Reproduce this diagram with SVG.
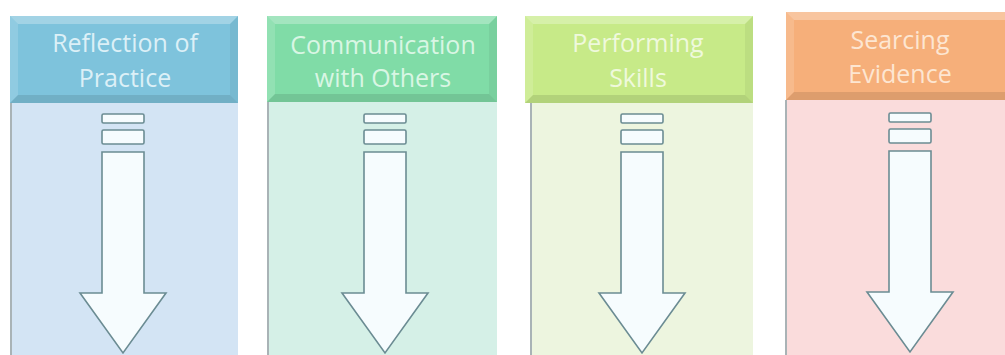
<svg xmlns="http://www.w3.org/2000/svg" width="1005" height="355" viewBox="0 0 1005 355">
<style>
.lbl{font-family:"Open Sans","Liberation Sans",sans-serif;font-size:25px;text-anchor:middle}
.edge{stroke:#a9b3b6;stroke-width:2}
.arrow{fill:#f6fcfe;stroke:#6b8c93;stroke-width:1.6;stroke-linejoin:miter}
.hl{fill:#ffffff;opacity:0.28}
.hl2{fill:#ffffff;opacity:0.14}
.sh{fill:#000000;opacity:0.10}
.sh2{fill:#000000;opacity:0.05}
</style>
<defs>
<g id="arr">
<rect class="arrow" x="-21" y="114" width="42" height="9" rx="1.5"/>
<rect class="arrow" x="-21" y="130" width="42" height="14" rx="1.5"/>
<path class="arrow" d="M-21,152 H21 V293 H43 L0,353 L-43,293 H-21 Z"/>
</g>
</defs>
<rect width="1005" height="355" fill="#ffffff"/>

<g id="col1">
<rect x="10" y="103" width="228" height="252" fill="#d3e4f4"/>
<line class="edge" x1="11" y1="103" x2="11" y2="355"/>
<rect x="10" y="16" width="228" height="87" fill="#7ec3dc"/>
<polygon class="hl" points="10,16 238,16 230,24 18,24"/>
<polygon class="hl2" points="10,16 18,24 18,95 10,103"/>
<polygon class="sh2" points="238,16 238,103 230,95 230,24"/>
<polygon class="sh" points="10,103 238,103 230,95 18,95"/>
<text class="lbl" x="125" y="52" fill="#dcf0f7">Reflection of</text>
<text class="lbl" x="125" y="87" fill="#dcf0f7">Practice</text>
<use href="#arr" x="123" y="0"/>
</g>

<g id="col2">
<rect x="267" y="102" width="230" height="253" fill="#d5f0e7"/>
<line class="edge" x1="268" y1="102" x2="268" y2="355"/>
<rect x="267" y="16" width="230" height="86" fill="#80dca7"/>
<polygon class="hl" points="267,16 497,16 489,24 275,24"/>
<polygon class="hl2" points="267,16 275,24 275,94 267,102"/>
<polygon class="sh2" points="497,16 497,102 489,94 489,24"/>
<polygon class="sh" points="267,102 497,102 489,94 275,94"/>
<text class="lbl" x="383" y="54" fill="#d9f6e4">Communication</text>
<text class="lbl" x="383" y="87" fill="#d9f6e4">with Others</text>
<use href="#arr" x="385" y="0"/>
</g>

<g id="col3">
<rect x="530" y="103" width="223" height="252" fill="#edf5df"/>
<line class="edge" x1="531" y1="103" x2="531" y2="355"/>
<rect x="525" y="16" width="228" height="87" fill="#c7ea88"/>
<polygon class="hl" points="525,16 753,16 745,24 533,24"/>
<polygon class="hl2" points="525,16 533,24 533,95 525,103"/>
<polygon class="sh2" points="753,16 753,103 745,95 745,24"/>
<polygon class="sh" points="525,103 753,103 745,95 533,95"/>
<text class="lbl" x="638" y="52" fill="#eff9dc">Performing</text>
<text class="lbl" x="638" y="87" fill="#eff9dc">Skills</text>
<use href="#arr" x="642" y="0"/>
</g>

<g id="col4">
<rect x="785" y="100" width="230" height="255" fill="#fadcdc"/>
<line class="edge" x1="786" y1="100" x2="786" y2="355"/>
<rect x="786" y="12" width="229" height="88" fill="#f6af7a"/>
<polygon class="hl" points="786,12 1015,12 1007,20 794,20"/>
<polygon class="hl2" points="786,12 794,20 794,92 786,100"/>
<polygon class="sh" points="786,100 1015,100 1007,92 794,92"/>
<text class="lbl" x="900" y="49" fill="#fde6d2">Searcing</text>
<text class="lbl" x="900" y="83" fill="#fde6d2">Evidence</text>
<use href="#arr" x="910" y="-1"/>
</g>
</svg>
